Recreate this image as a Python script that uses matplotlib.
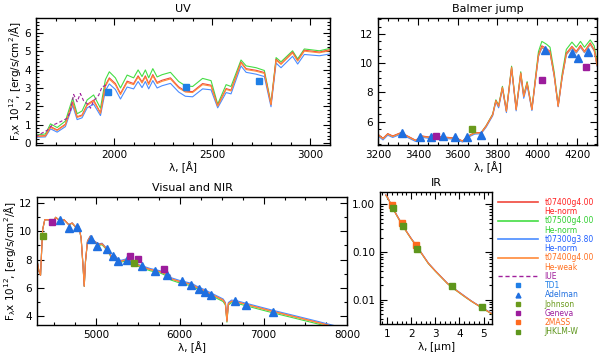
import numpy as np
import matplotlib.pyplot as plt
from matplotlib.ticker import MultipleLocator, FixedLocator, FormatStrFormatter, LogLocator, NullFormatter
from matplotlib.lines import Line2D

plt.rcParams['font.family'] = ['DejaVu Sans']
plt.rcParams['mathtext.default'] = 'regular'

# model colours
c_red = '#f0483c'
c_green = '#44dd44'
c_blue = '#4a8cff'
c_orange = '#ff8a3a'
c_iue = '#a0209c'
c_td1 = '#1f7fe6'
c_adel = '#1f6fe0'
c_john = '#6a9a1c'
c_gen = '#9c1c9c'
c_2mass = '#ff6a1e'
c_jhk = '#5e961c'

# ---------------- UV ----------------
uv_wl = [1597, 1648, 1674, 1708, 1750, 1787, 1810, 1835, 1861, 1894, 1929, 1954, 1974, 2005, 2031,
         2065, 2098, 2121, 2141, 2158, 2175, 2196, 2218, 2243, 2286, 2328, 2362, 2399, 2450, 2493,
         2527, 2570, 2595, 2646, 2672, 2723, 2765, 2799, 2825, 2850, 2909, 2935, 2969, 3046, 3100]
uv_red = [0.38, 0.41, 0.90, 0.72, 1.03, 2.25, 1.44, 1.53, 2.11, 2.34, 1.65, 3.15, 3.55, 3.24, 2.70,
          3.37, 3.24, 3.66, 3.33, 3.66, 3.24, 3.73, 3.30, 3.42, 3.55, 3.06, 2.83, 2.80, 3.24, 3.15,
          2.04, 2.97, 2.88, 4.41, 4.05, 3.96, 3.84, 2.11, 4.56, 4.32, 4.95, 4.50, 5.05, 4.95, 5.08]
uv_green = [0.45, 0.50, 1.05, 0.85, 1.20, 2.45, 1.60, 1.75, 2.35, 2.62, 1.90, 3.45, 3.88, 3.55, 3.00,
            3.70, 3.55, 3.98, 3.62, 3.98, 3.55, 4.05, 3.60, 3.72, 3.85, 3.35, 3.12, 3.08, 3.52, 3.40,
            2.12, 3.18, 3.08, 4.52, 4.20, 4.10, 3.95, 2.18, 4.65, 4.42, 5.02, 4.58, 5.12, 5.02, 5.15]
uv_blue = [0.32, 0.34, 0.78, 0.60, 0.90, 2.05, 1.28, 1.38, 1.92, 2.12, 1.50, 2.85, 3.22, 2.92, 2.40,
           3.05, 2.95, 3.35, 3.02, 3.35, 2.95, 3.40, 3.00, 3.12, 3.25, 2.78, 2.55, 2.52, 2.95, 2.90,
           1.92, 2.75, 2.68, 4.20, 3.85, 3.75, 3.62, 1.98, 4.35, 4.10, 4.72, 4.30, 4.82, 4.75, 4.85]
uv_orange = [0.36, 0.39, 0.86, 0.69, 0.99, 2.20, 1.40, 1.49, 2.06, 2.28, 1.62, 3.08, 3.48, 3.17, 2.64,
             3.30, 3.18, 3.59, 3.27, 3.59, 3.18, 3.66, 3.24, 3.36, 3.49, 3.00, 2.78, 2.75, 3.18, 3.10,
             2.01, 2.92, 2.84, 4.36, 4.00, 3.91, 3.79, 2.09, 4.51, 4.28, 4.90, 4.46, 5.00, 4.91, 5.03]
iue_wl = [1600, 1622, 1657, 1680, 1725, 1759, 1775, 1792, 1810, 1826, 1843, 1869, 1878, 1894, 1920, 1937, 1958]
iue_f = [0.35, 0.50, 0.70, 0.95, 1.17, 1.35, 1.70, 2.65, 2.25, 2.70, 2.30, 2.07, 1.90, 2.30, 2.61, 3.06, 3.15]
td1_wl = [1966, 2367, 2740]
td1_f = [2.78, 3.05, 3.37]

# ---------------- Balmer jump ----------------
bal_wl = [3200, 3225, 3249, 3274, 3315, 3348, 3389, 3422, 3455, 3488, 3529, 3562, 3595, 3625, 3653,
          3686, 3718, 3743, 3776, 3792, 3806, 3825, 3845, 3871, 3894, 3917, 3932, 3949, 3973, 3990,
          4006, 4023, 4047, 4064, 4085, 4105, 4125, 4146, 4174, 4196, 4217, 4237, 4266, 4286, 4300]
bal_red = [5.14, 4.86, 5.18, 5.02, 5.25, 5.02, 4.73, 5.02, 4.95, 5.02, 4.95, 4.91, 4.86, 4.68, 5.02,
           5.25, 5.25, 5.71, 6.49, 7.45, 7.07, 8.36, 6.73, 9.73, 6.84, 9.34, 7.75, 8.66, 6.84, 8.80,
           10.59, 11.20, 11.00, 10.82, 9.20, 7.07, 9.10, 10.70, 11.16, 10.82, 11.23, 10.82, 11.40, 10.93, 9.90]
bal_green = [5.12, 4.84, 5.16, 5.00, 5.23, 5.00, 4.71, 5.00, 4.93, 5.00, 4.93, 4.89, 4.84, 4.66, 5.00,
             5.23, 5.25, 5.72, 6.52, 7.50, 7.12, 8.42, 6.76, 9.80, 6.88, 9.42, 7.80, 8.74, 6.88, 8.95,
             10.80, 11.50, 11.30, 11.10, 9.40, 7.12, 9.30, 10.95, 11.45, 11.10, 11.50, 11.10, 11.60, 11.20, 10.10]
bal_blue = [5.02, 4.75, 5.07, 4.92, 5.14, 4.92, 4.64, 4.92, 4.86, 4.92, 4.86, 4.82, 4.77, 4.60, 4.93,
            5.15, 5.17, 5.62, 6.40, 7.35, 6.95, 8.25, 6.62, 9.60, 6.74, 9.18, 7.60, 8.50, 6.76, 8.70,
            10.45, 11.05, 10.88, 10.70, 9.10, 7.02, 9.00, 10.58, 11.05, 10.70, 11.10, 10.72, 11.28, 10.85, 9.80]
bal_orange = [5.10, 4.82, 5.14, 4.98, 5.21, 4.98, 4.70, 4.98, 4.92, 4.98, 4.92, 4.88, 4.83, 4.66, 4.99,
              5.22, 5.22, 5.68, 6.46, 7.42, 7.04, 8.33, 6.70, 9.70, 6.81, 9.30, 7.72, 8.62, 6.82, 8.76,
              10.52, 11.10, 10.92, 10.75, 9.15, 7.05, 9.05, 10.62, 11.08, 10.75, 11.15, 10.76, 11.32, 10.88, 9.85]
adel_bal_wl = [3320, 3409, 3467, 3527, 3588, 3649, 3716, 4040, 4175, 4205, 4256]
adel_bal_f = [5.23, 4.93, 4.93, 5.00, 4.93, 4.93, 5.10, 10.89, 10.70, 10.36, 10.77]
gen_bal_wl = [3489, 4025, 4244]
gen_bal_f = [5.05, 8.86, 9.73]
john_bal_wl = [3673]
john_bal_f = [5.52]

# ---------------- Visual and NIR ----------------
vis_wl = [4300, 4320, 4340, 4352, 4365, 4390, 4440, 4480, 4520, 4580, 4620, 4677, 4717, 4768, 4796,
          4824, 4848, 4861, 4876, 4900, 4935, 4975, 5034, 5074, 5134, 5170, 5193, 5221, 5253, 5293,
          5372, 5451, 5531, 5650, 5769, 5888, 5895, 6007, 6142, 6200, 6280, 6399, 6518, 6545, 6563,
          6580, 6617, 6677, 6836, 7114, 7391, 7630, 7749, 8000]
vis_red = [7.90, 7.20, 6.90, 8.50, 10.10, 10.80, 10.80, 10.57, 10.97, 10.69, 10.80, 10.45, 10.57, 10.22, 10.34,
           9.52, 7.42, 6.13, 7.88, 9.29, 9.64, 9.29, 9.06, 9.10, 8.71, 8.36, 8.00, 8.30, 8.05, 7.88,
           8.00, 7.76, 7.53, 7.30, 7.14, 6.83, 6.65, 6.44, 6.25, 6.06, 5.85, 5.50, 5.15, 4.90, 3.67,
           4.90, 5.07, 5.03, 4.78, 4.35, 3.95, 3.60, 3.42, 3.05]
vis_green = [7.90, 7.20, 6.90, 8.50, 10.10, 10.80, 10.80, 10.57, 10.97, 10.69, 10.80, 10.45, 10.55, 10.20, 10.32,
             9.50, 7.40, 6.11, 7.85, 9.25, 9.60, 9.24, 9.00, 9.04, 8.65, 8.30, 7.94, 8.23, 7.98, 7.81,
             7.92, 7.68, 7.45, 7.21, 7.05, 6.74, 6.56, 6.34, 6.15, 5.96, 5.75, 5.40, 5.05, 4.80, 3.60,
             4.80, 4.97, 4.93, 4.68, 4.25, 3.85, 3.50, 3.32, 2.95]
vis_blue = [7.90, 7.20, 6.90, 8.50, 10.10, 10.80, 10.80, 10.57, 10.97, 10.69, 10.80, 10.45, 10.58, 10.24, 10.36,
            9.54, 7.44, 6.15, 7.90, 9.32, 9.68, 9.33, 9.11, 9.15, 8.76, 8.42, 8.06, 8.36, 8.11, 7.94,
            8.06, 7.82, 7.60, 7.37, 7.21, 6.91, 6.73, 6.52, 6.33, 6.14, 5.93, 5.58, 5.23, 4.98, 3.74,
            4.98, 5.15, 5.11, 4.86, 4.43, 4.03, 3.68, 3.50, 3.13]
vis_orange = [7.90, 7.20, 6.90, 8.50, 10.10, 10.80, 10.80, 10.57, 10.97, 10.69, 10.80, 10.45, 10.57, 10.22, 10.34,
              9.52, 7.42, 6.13, 7.88, 9.29, 9.64, 9.29, 9.06, 9.10, 8.71, 8.36, 8.00, 8.30, 8.05, 7.88,
              8.00, 7.76, 7.53, 7.30, 7.14, 6.83, 6.65, 6.44, 6.25, 6.06, 5.85, 5.50, 5.15, 4.90, 3.67,
              4.90, 5.07, 5.03, 4.78, 4.35, 3.95, 3.60, 3.42, 3.05]
adel_vis_wl = [4566, 4685, 4780, 4939, 5010, 5129, 5208, 5268, 5367, 5546, 5704, 5843, 6022, 6129,
               6231, 6299, 6379, 6656, 6795, 7112]
adel_vis_f = [10.80, 10.22, 10.26, 9.47, 8.98, 8.75, 8.23, 7.88, 8.00, 7.58, 7.18, 6.95, 6.48, 6.18,
              5.94, 5.71, 5.54, 5.07, 4.84, 4.30]
gen_vis_wl = [4475, 5405, 5506, 5815]
gen_vis_f = [10.62, 8.23, 8.05, 7.37]
john_vis_wl = [4375, 5460]
john_vis_f = [9.68, 7.77]

# ---------------- IR ----------------
ir_um = [0.95, 1.04, 1.25, 1.50, 1.67, 2.00, 2.26, 2.71, 3.00, 3.50, 3.71, 4.24, 4.50, 4.93, 5.40]
ir_red = [1.55, 1.33, 0.80, 0.48, 0.34, 0.19, 0.125, 0.058, 0.040, 0.022, 0.018, 0.0115, 0.0093, 0.0068, 0.0049]
ir_green = [1.52, 1.31, 0.79, 0.47, 0.335, 0.187, 0.123, 0.057, 0.0394, 0.0217, 0.0177, 0.0113, 0.0092, 0.0067, 0.0048]
ir_blue = [1.58, 1.35, 0.81, 0.49, 0.345, 0.193, 0.127, 0.059, 0.0406, 0.0223, 0.0183, 0.0117, 0.0094, 0.0069, 0.0050]
ir_orange = [1.55, 1.33, 0.80, 0.48, 0.34, 0.19, 0.125, 0.058, 0.040, 0.022, 0.018, 0.0115, 0.0093, 0.0068, 0.0049]
mass_um = [1.22, 1.63, 2.20]
mass_f = [0.98, 0.40, 0.142]
jhk_um = [1.25, 1.67, 2.26, 3.71, 4.93]
jhk_f = [0.85, 0.343, 0.117, 0.0193, 0.0071]

fs = 7.5
lw = 0.8
ms_sq = 5
ms_tri = 5.5
ylab = r'F$_{\lambda}$x 10$^{12}$, [erg/s/cm$^2$/Å]'


def style(ax):
    ax.tick_params(which='both', direction='in', top=True, right=True, labelsize=fs, width=0.8)
    ax.tick_params(which='major', length=5)
    ax.tick_params(which='minor', length=2.5)
    for s in ax.spines.values():
        s.set_linewidth(1.0)


def models(ax, x, r, g, b, o):
    ax.plot(x, g, color=c_green, lw=lw)
    ax.plot(x, b, color=c_blue, lw=lw)
    ax.plot(x, r, color=c_red, lw=lw)
    ax.plot(x, o, color=c_orange, lw=lw)


fig = plt.figure(figsize=(6, 3.55), dpi=100)

# UV panel
ax1 = fig.add_axes([0.06, 0.5915, 0.49, 0.3577])
models(ax1, uv_wl, uv_red, uv_green, uv_blue, uv_orange)
ax1.plot(iue_wl, iue_f, color=c_iue, lw=lw, ls=(0, (3, 2)))
ax1.plot(td1_wl, td1_f, 's', color=c_td1, ms=ms_sq)
ax1.set_xlim(1600, 3100)
ax1.set_ylim(-0.1, 6.8)
ax1.xaxis.set_major_locator(MultipleLocator(500))
ax1.xaxis.set_minor_locator(MultipleLocator(100))
ax1.yaxis.set_major_locator(MultipleLocator(1))
ax1.yaxis.set_minor_locator(MultipleLocator(0.2))
ax1.set_title('UV', fontsize=8, pad=4)
ax1.set_xlabel('λ, [Å]', fontsize=fs, labelpad=1)
ax1.set_ylabel(ylab, fontsize=fs, labelpad=1)
style(ax1)

# Balmer jump panel
ax2 = fig.add_axes([0.63, 0.5915, 0.365, 0.3577])
models(ax2, bal_wl, bal_red, bal_green, bal_blue, bal_orange)
ax2.plot(adel_bal_wl, adel_bal_f, '^', color=c_adel, ms=ms_tri)
ax2.plot(gen_bal_wl, gen_bal_f, 's', color=c_gen, ms=ms_sq)
ax2.plot(john_bal_wl, john_bal_f, 's', color=c_john, ms=ms_sq)
ax2.set_xlim(3200, 4300)
ax2.set_ylim(4.4, 13.1)
ax2.xaxis.set_major_locator(MultipleLocator(200))
ax2.xaxis.set_minor_locator(MultipleLocator(50))
ax2.yaxis.set_major_locator(MultipleLocator(2))
ax2.yaxis.set_minor_locator(MultipleLocator(0.5))
ax2.set_title('Balmer jump', fontsize=8, pad=4)
ax2.set_xlabel('λ, [Å]', fontsize=fs, labelpad=1)
style(ax2)

# Visual and NIR panel
ax3 = fig.add_axes([0.062, 0.0845, 0.517, 0.3606])
models(ax3, vis_wl, vis_red, vis_green, vis_blue, vis_orange)
ax3.plot(adel_vis_wl, adel_vis_f, '^', color=c_adel, ms=ms_tri)
ax3.plot(gen_vis_wl, gen_vis_f, 's', color=c_gen, ms=ms_sq)
ax3.plot(john_vis_wl, john_vis_f, 's', color=c_john, ms=ms_sq)
ax3.set_xlim(4300, 8000)
ax3.set_ylim(3.4, 12.4)
ax3.xaxis.set_major_locator(MultipleLocator(1000))
ax3.xaxis.set_minor_locator(MultipleLocator(250))
ax3.yaxis.set_major_locator(MultipleLocator(2))
ax3.yaxis.set_minor_locator(MultipleLocator(1))
ax3.set_title('Visual and NIR', fontsize=8, pad=4)
ax3.set_xlabel('λ, [Å]', fontsize=fs, labelpad=1)
ax3.set_ylabel(ylab, fontsize=fs, labelpad=1)
style(ax3)

# IR panel
ax4 = fig.add_axes([0.633, 0.0873, 0.187, 0.372])
models(ax4, ir_um, ir_red, ir_green, ir_blue, ir_orange)
ax4.plot(mass_um, mass_f, 's', color=c_2mass, ms=ms_sq)
ax4.plot(jhk_um, jhk_f, 's', color=c_jhk, ms=ms_sq)
ax4.set_yscale('log')
ax4.set_xlim(0.7, 5.35)
ax4.set_ylim(0.0031, 1.8)
ax4.xaxis.set_major_locator(MultipleLocator(1))
ax4.xaxis.set_minor_locator(MultipleLocator(0.2))
ax4.yaxis.set_major_locator(FixedLocator([0.01, 0.1, 1.0]))
ax4.yaxis.set_major_formatter(FormatStrFormatter('%.2f'))
ax4.yaxis.set_minor_locator(LogLocator(base=10, subs=np.arange(2, 10)))
ax4.yaxis.set_minor_formatter(NullFormatter())
ax4.set_title('IR', fontsize=8, pad=4)
ax4.set_xlabel(r'λ, [$\mu$m]', fontsize=fs, labelpad=1)
style(ax4)

# legend on the right
handles = [
    Line2D([], [], color=c_red, lw=1.2), Line2D([], [], ls='none'),
    Line2D([], [], color=c_green, lw=1.2), Line2D([], [], ls='none'),
    Line2D([], [], color=c_blue, lw=1.2), Line2D([], [], ls='none'),
    Line2D([], [], color=c_orange, lw=1.2), Line2D([], [], ls='none'),
    Line2D([], [], color=c_iue, lw=1.0, ls=(0, (3, 2))),
    Line2D([], [], ls='none', marker='s', color=c_td1, ms=3.5),
    Line2D([], [], ls='none', marker='^', color=c_adel, ms=3.5),
    Line2D([], [], ls='none', marker='s', color=c_john, ms=3.5),
    Line2D([], [], ls='none', marker='s', color=c_gen, ms=3.5),
    Line2D([], [], ls='none', marker='s', color=c_2mass, ms=3.5),
    Line2D([], [], ls='none', marker='s', color=c_jhk, ms=3.5),
]
labels = ['t07400g4.00', 'He-norm', 't07500g4.00', 'He-norm', 't07300g3.80', 'He-norm',
          't07400g4.00', 'He-weak', 'IUE', 'TD1', 'Adelman', 'Johnson', 'Geneva', '2MASS', 'JHKLM-W']
lcolors = ['#ff2020', '#ff2020', '#30d030', '#30d030', '#2060ff', '#2060ff', '#ff7020', '#ff7020',
           c_iue, c_td1, c_adel, '#6a9a1c', c_gen, '#ff6a1e', '#5e961c']
leg = fig.legend(handles, labels, loc='upper left', bbox_to_anchor=(498 / 600, 1 - 198 / 355),
                 frameon=False, fontsize=5.5, handlelength=5.2, handletextpad=0.9,
                 labelspacing=0.03, borderpad=0, borderaxespad=0, labelcolor=lcolors)

fig.savefig('out.png', dpi=100)
